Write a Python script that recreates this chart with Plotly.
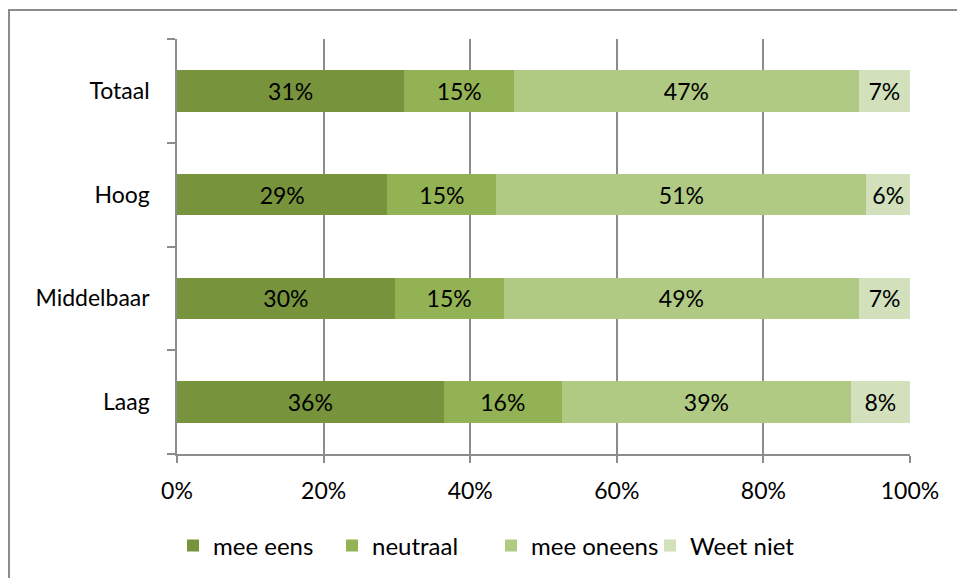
import plotly.graph_objects as go

categories = ["Laag", "Middelbaar", "Hoog", "Totaal"]
series_names = ["mee eens", "neutraal", "mee oneens", "Weet niet"]
mee_eens = [36, 30, 29, 31]
neutraal = [16, 15, 15, 15]
mee_oneens = [39, 49, 51, 47]
weet_niet = [8, 7, 6, 7]
tick_vals = [0, 20, 40, 60, 80, 100]
tick_text = ["0%", "20%", "40%", "60%", "80%", "100%"]

colors = ["#77933C", "#93B254", "#B0CA84", "#D2E1BC"]
series = [mee_eens, neutraal, mee_oneens, weet_niet]

FONT = "Lato"
FS = 23
W, H = 957, 578
L, R, T, B = 177, 47, 39, 124
pw, ph = W - L - R, H - T - B

def px(x):
    return (x - L) / pw

def py(y):
    return (H - B - y) / ph

fig = go.Figure()
for name, vals, col in zip(series_names, series, colors):
    fig.add_trace(go.Bar(
        y=categories, x=vals, name=name, orientation="h",
        marker=dict(color=col, line=dict(width=0)),
        text=[f"{v}%" for v in vals], textposition="inside",
        insidetextanchor="middle",
        textfont=dict(family=FONT, size=FS, color="black"),
        hoverinfo="skip",
    ))

fig.update_layout(
    barmode="stack", barnorm="percent", bargap=0.6,
    width=W, height=H,
    margin=dict(l=L, r=R, t=T, b=B, autoexpand=False),
    paper_bgcolor="white", plot_bgcolor="white",
    font=dict(family=FONT, size=FS, color="black"),
    uniformtext=dict(minsize=FS, mode="show"),
    showlegend=True,
    legend=dict(orientation="h", x=px(173), xanchor="left", y=py(546), yanchor="middle",
                font=dict(family=FONT, size=FS + 1), traceorder="normal",
                itemwidth=30, entrywidth=114, entrywidthmode="pixels",
                bgcolor="rgba(0,0,0,0)"),
    xaxis=dict(range=[0, 100], tickvals=tick_vals, ticktext=tick_text,
               showgrid=True, gridcolor="#8C8C8C", gridwidth=1.5,
               showline=True, linecolor="#8C8C8C", linewidth=1.5,
               ticks="outside", ticklen=7, tickcolor="#8C8C8C", tickwidth=1.5,
               ticklabelstandoff=9,
               zeroline=False, fixedrange=True),
    yaxis=dict(showgrid=False, showline=True, linecolor="#8C8C8C", linewidth=1.5,
               ticks="outside", ticklen=8, tickcolor="#8C8C8C", tickwidth=1.5,
               tickson="boundaries", ticklabelstandoff=21, fixedrange=True),
    shapes=[dict(type="rect", xref="paper", yref="paper",
                 x0=px(9), x1=px(970), y0=py(600), y1=py(10),
                 line=dict(color="#8C8C8C", width=2), fillcolor="rgba(0,0,0,0)",
                 layer="below")],
)

fig.write_html("out.html", config={"displayModeBar": False},
               post_script="document.body.style.margin='0px';document.body.style.overflow='hidden';")
